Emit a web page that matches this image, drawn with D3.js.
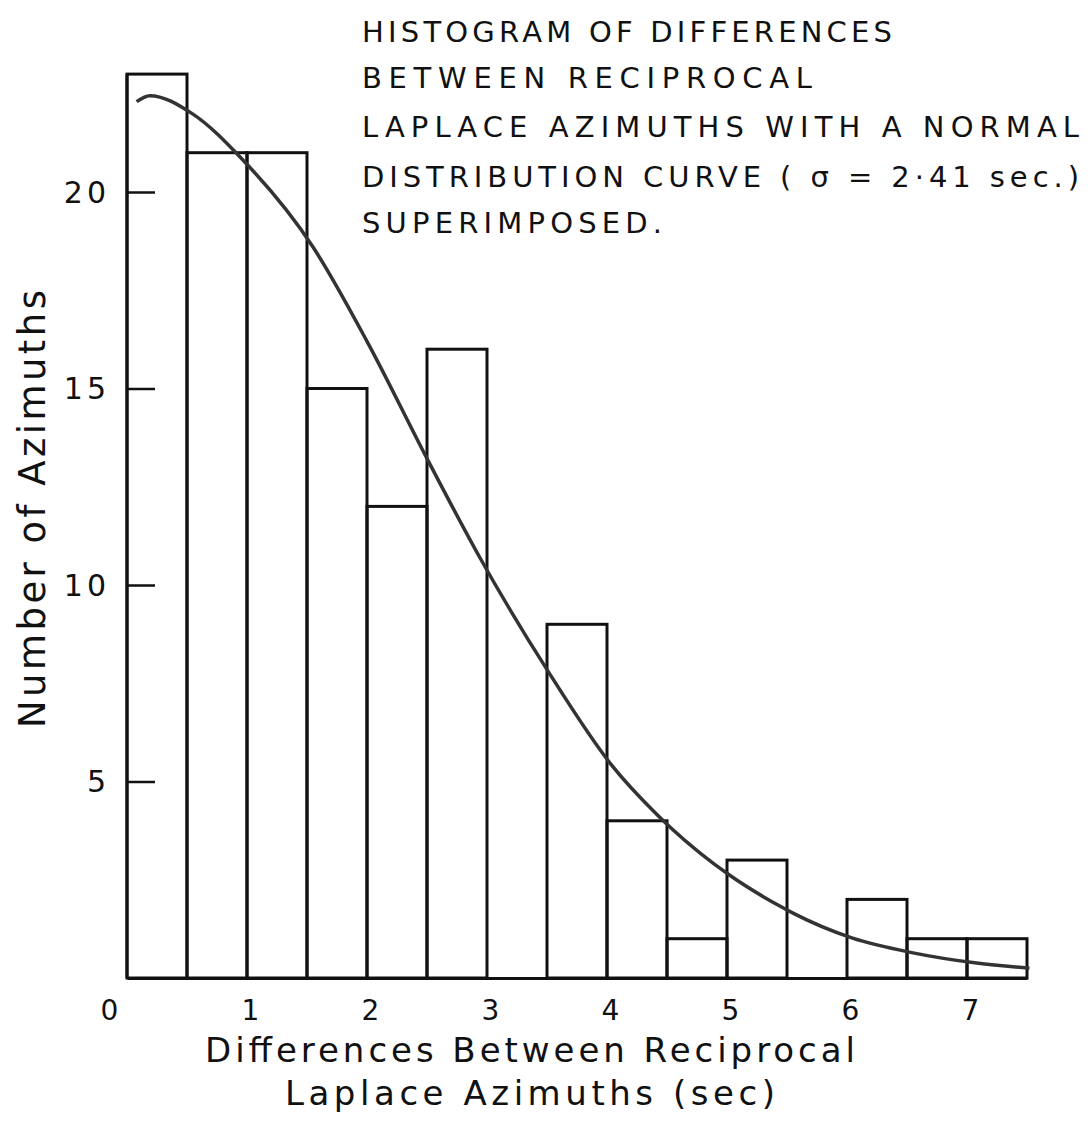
<!DOCTYPE html>
<html>
<head>
<meta charset="utf-8">
<script src="https://cdn.jsdelivr.net/npm/d3@7"></script>
<style>
  body { margin: 0; background: #fff; }
  svg { display: block; }
</style>
</head>
<body>
<svg id="chart" width="1089" height="1129"></svg>
<script>
// bins of 0.5 sec, counts
const binStarts = [0, 0.5, 1, 1.5, 2, 2.5, 3, 3.5, 4, 4.5, 5, 5.5, 6, 6.5, 7];
const counts = [23, 21, 21, 15, 12, 16, 0, 9, 4, 1, 3, 0, 2, 1, 1];
const binWidth = 0.5;

// normal curve (sigma = 2.41 sec)
const curveX = [0.08, 0.19, 0.54, 0.97, 1.55, 2.0, 2.52, 2.94, 3.52, 4.03, 4.42, 4.54, 5.02, 5.44, 5.55, 6.04, 6.55, 7.08, 7.52];
const curveY = [22.3, 22.45, 22.0, 20.8, 18.6, 16.2, 13.1, 10.7, 7.75, 5.45, 4.15, 3.8, 2.62, 1.83, 1.65, 1.02, 0.64, 0.38, 0.25];

const xTicks = [0, 1, 2, 3, 4, 5, 6, 7];
const yTicks = [5, 10, 15, 20];

const titleLines = [
    "HISTOGRAM OF DIFFERENCES",
    "BETWEEN RECIPROCAL",
    "LAPLACE AZIMUTHS WITH A NORMAL",
    "DISTRIBUTION CURVE ( \u03C3 = 2\u00B741 sec.)",
    "SUPERIMPOSED."
];
const xTitle = ["Differences Between Reciprocal", "Laplace  Azimuths (sec)"];
const yTitle = "Number of Azimuths";

// layout
const titleWidths = [530, 450, 717, 717, 300];
const ink = "#111";

const svg = d3.select("#chart");

const x = d3.scaleLinear().domain([0, 7.5]).range([127, 1027]);
const y = d3.scaleLinear().domain([0, 20]).range([978, 192]);

const bins = binStarts.map((b, i) => ({ x0: b, x1: b + binWidth, n: counts[i] }))
    .filter(d => d.n > 0);

// bars
svg.append("g")
    .selectAll("rect")
    .data(bins)
    .enter()
    .append("rect")
    .attr("x", d => x(d.x0))
    .attr("y", d => y(d.n))
    .attr("width", d => x(d.x1) - x(d.x0))
    .attr("height", d => y(0) - y(d.n))
    .attr("fill", "none")
    .attr("stroke", ink)
    .attr("stroke-width", 3);

// x axis baseline
const xAxis = d3.axisBottom(x)
    .tickValues(xTicks)
    .tickSize(0)
    .tickPadding(22)
    .tickFormat(d3.format("d"));

const gx = svg.append("g")
    .attr("transform", "translate(0," + y(0) + ")")
    .call(xAxis);
gx.select(".domain").attr("stroke", ink).attr("stroke-width", 3);
gx.selectAll("text")
    .attr("font-family", "DejaVu Sans")
    .attr("font-size", 28)
    .attr("fill", ink)
    .attr("dx", d => d === 0 ? -18 : 3);

// y axis with inward ticks
const yAxis = d3.axisRight(y)
    .tickValues(yTicks)
    .tickSize(28)
    .tickFormat("");

const gy = svg.append("g")
    .attr("transform", "translate(" + x(0) + ",0)")
    .call(yAxis);
gy.select(".domain")
    .attr("d", "M0," + y(0) + "V" + y(counts[0]))
    .attr("stroke", ink).attr("stroke-width", 3);
gy.selectAll(".tick line").attr("stroke", ink).attr("stroke-width", 2.5);

svg.append("g")
    .selectAll("text")
    .data(yTicks)
    .enter()
    .append("text")
    .attr("x", 110)
    .attr("y", d => y(d))
    .attr("dy", "0.36em")
    .attr("text-anchor", "end")
    .attr("font-family", "DejaVu Sans")
    .attr("font-size", 30)
    .attr("letter-spacing", 4)
    .attr("fill", ink)
    .text(d => d);

// normal curve
const line = d3.line()
    .x(d => x(d[0]))
    .y(d => y(d[1]))
    .curve(d3.curveMonotoneX);

svg.append("path")
    .datum(curveX.map((v, i) => [v, curveY[i]]))
    .attr("d", line)
    .attr("fill", "none")
    .attr("stroke", "#333")
    .attr("stroke-width", 3.5);

// title block
svg.append("g")
    .selectAll("text")
    .data(titleLines)
    .enter()
    .append("text")
    .attr("x", 362)
    .attr("y", (d, i) => [42, 88, 137, 187, 233][i])
    .attr("font-family", "DejaVu Sans")
    .attr("font-size", 29)
    .attr("textLength", (d, i) => titleWidths[i])
    .attr("lengthAdjust", "spacing")
    .attr("fill", ink)
    .text(d => d);

// axis titles
svg.append("g")
    .selectAll("text")
    .data(xTitle)
    .enter()
    .append("text")
    .attr("x", 530)
    .attr("y", (d, i) => 1062 + i * 43)
    .attr("text-anchor", "middle")
    .attr("font-family", "DejaVu Sans")
    .attr("font-size", 34)
    .attr("textLength", (d, i) => i === 0 ? 650 : 490)
    .attr("lengthAdjust", "spacing")
    .attr("fill", ink)
    .text(d => d);

svg.append("text")
    .attr("transform", "translate(45,509) rotate(-90)")
    .attr("text-anchor", "middle")
    .attr("font-family", "DejaVu Sans")
    .attr("font-size", 37)
    .attr("textLength", 438)
    .attr("lengthAdjust", "spacing")
    .attr("fill", ink)
    .text(yTitle);
</script>
</body>
</html>
